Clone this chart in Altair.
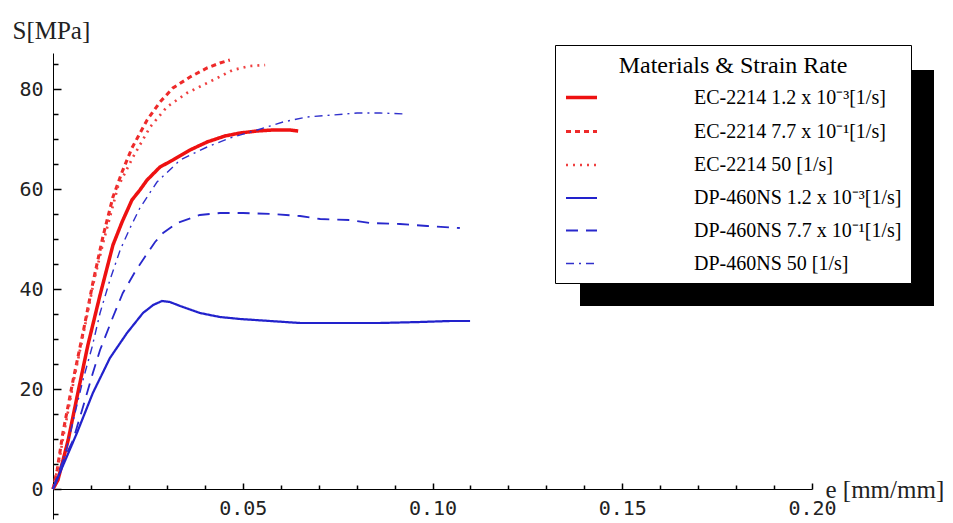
import altair as alt
import pandas as pd

# ---------------- data ----------------
series_names = [
    "EC-2214 1.2 x 10⁻³[1/s]",
    "EC-2214 7.7 x 10⁻¹[1/s]",
    "EC-2214 50 [1/s]",
    "DP-460NS 1.2 x 10⁻³[1/s]",
    "DP-460NS 7.7 x 10⁻¹[1/s]",
    "DP-460NS 50 [1/s]",
]

ec_slow_strain = [0, 0.0013, 0.0040, 0.0066, 0.0092, 0.0124, 0.0158, 0.0182, 0.0208, 0.0229,
                  0.0248, 0.0282, 0.0316, 0.0361, 0.0406, 0.0453, 0.0493, 0.0538, 0.0580,
                  0.0625, 0.0646]
ec_slow_stress = [0, 1.8, 9.8, 19.4, 28.8, 38.8, 48.8, 53.4, 57.8, 59.8,
                  61.8, 64.4, 65.8, 67.8, 69.4, 70.6, 71.2, 71.6, 71.8,
                  71.8, 71.6]

ec_mid_strain = [0, 0.0011, 0.0026, 0.0053, 0.0079, 0.0105, 0.0132, 0.0158, 0.0182, 0.0208,
                 0.0248, 0.0282, 0.0316, 0.0361, 0.0406, 0.0440, 0.0466]
ec_mid_stress = [0, 3.8, 11.2, 21.8, 31.2, 41.2, 50.6, 58.4, 63.4, 68.2,
                 73.8, 77.4, 80.2, 82.4, 84.2, 85.2, 85.8]

ec_fast_strain = [0, 0.0013, 0.0029, 0.0055, 0.0082, 0.0108, 0.0134, 0.0171, 0.0211, 0.0256,
                  0.0300, 0.0353, 0.0422, 0.0474, 0.0519, 0.0559]
ec_fast_stress = [0, 4.4, 11.2, 21.8, 31.8, 41.6, 49.8, 60.4, 66.4, 72.4,
                  76.4, 79.2, 81.8, 83.8, 84.6, 84.8]

dp_slow_strain = [0, 0.0018, 0.0063, 0.0105, 0.0150, 0.0195, 0.0237, 0.0264, 0.0287, 0.0308,
                  0.0335, 0.0387, 0.0440, 0.0493, 0.0572, 0.0651, 0.0756, 0.0862, 0.0967,
                  0.1046, 0.1099]
dp_slow_stress = [0, 3.2, 11.2, 19.2, 26.2, 31.2, 35.2, 36.8, 37.6, 37.4,
                  36.6, 35.2, 34.4, 34.0, 33.6, 33.2, 33.2, 33.2, 33.4,
                  33.6, 33.6]

dp_mid_strain = [0, 0.0024, 0.0053, 0.0079, 0.0105, 0.0124, 0.0158, 0.0184, 0.0216, 0.0242,
                 0.0269, 0.0290, 0.0327, 0.0387, 0.0440, 0.0501, 0.0580, 0.0651, 0.0704,
                 0.0783, 0.0835, 0.0914, 0.0986, 0.1072]
dp_mid_stress = [0, 5.2, 9.8, 16.4, 23.2, 27.8, 34.4, 39.2, 43.4, 46.4,
                 49.4, 51.2, 53.2, 54.8, 55.2, 55.2, 55.0, 54.6, 54.0,
                 53.8, 53.2, 53.0, 52.6, 52.2]

dp_fast_strain = [0, 0.0011, 0.0037, 0.0058, 0.0079, 0.0103, 0.0124, 0.0150, 0.0177, 0.0203,
                  0.0229, 0.0274, 0.0335, 0.0406, 0.0466, 0.0538, 0.0606, 0.0669, 0.0738,
                  0.0801, 0.0862, 0.0928]
dp_fast_stress = [0, 1.8, 8.4, 15.2, 21.8, 28.4, 35.2, 41.8, 47.8, 52.2,
                  56.2, 61.4, 65.8, 68.4, 70.2, 71.8, 73.4, 74.4, 74.8,
                  75.2, 75.2, 75.0]

# all tick positions (labels only on the majors 0.05 / 20 steps)
x_tick_values = [0.01, 0.02, 0.03, 0.04, 0.05, 0.06, 0.07, 0.08, 0.09, 0.10,
                 0.11, 0.12, 0.13, 0.14, 0.15, 0.16, 0.17, 0.18, 0.19, 0.20]
y_tick_values = [-5, 0, 5, 10, 15, 20, 25, 30, 35, 40, 45, 50, 55, 60, 65, 70, 75, 80, 85]

# ---------------- build table ----------------
strains = [ec_slow_strain, ec_mid_strain, ec_fast_strain, dp_slow_strain, dp_mid_strain, dp_fast_strain]
stresses = [ec_slow_stress, ec_mid_stress, ec_fast_stress, dp_slow_stress, dp_mid_stress, dp_fast_stress]
rows = []
for name, xs, ys in zip(series_names, strains, stresses):
    for i, (xv, yv) in enumerate(zip(xs, ys)):
        rows.append({"series": name, "strain": xv, "stress": yv, "i": i})
df = pd.DataFrame(rows)

# ---------------- styles ----------------
colors = ["#ee1111", "#ee2a2a", "#ef4040", "#2222cc", "#2828cc", "#3030cc"]
dashes = [[1, 0], [5, 4], [2, 5], [1, 0], [12, 8], [8, 5, 2, 5]]
widths = [3.5, 1.4, 1.6, 2.0, 2.0, 2.0]

W, H = 759, 466
Y_MIN, Y_MAX = -6, 87.2
x_scale = alt.Scale(domain=[0, 0.2], nice=False, zero=False)
y_scale = alt.Scale(domain=[Y_MIN, Y_MAX], nice=False, zero=False)

tick_font = "DejaVu Sans Mono"
serif = "Liberation Serif, Times New Roman, serif"

x_major_test = "round(datum.value * 100) % 5 === 0"
y_major_test = "datum.value % 20 === 0"

leg = alt.Legend(
    title="Materials & Strain Rate",
    orient="none", legendX=502, legendY=-8, direction="vertical",
    fillColor="white", strokeColor="black", padding=9,
    titleFont=serif, titleFontSize=24, titleFontWeight="normal", titleColor="black",
    titleAnchor="middle", titlePadding=2, titleLimit=500,
    labelFont=serif, labelFontSize=20, labelColor="black", labelOffset=95, labelLimit=500,
    symbolType="stroke", symbolSize=961, rowPadding=6,
)

# x axis sits on the zero line; ticks point up into the plot, labels below
x_axis = alt.Axis(
    orient="top", offset=-(H * Y_MAX / (Y_MAX - Y_MIN)), values=x_tick_values,
    ticks=True, tickColor="#000000", tickWidth=1.5, tickOpacity=1,
    tickSize={"condition": {"test": x_major_test, "value": 6}, "value": 4},
    labelExpr=x_major_test + " ? format(datum.value, '.2f') : ''",
    labelBaseline="top", labelPadding=-15, labelFlush=False, labelOverlap=False,
    labelFont=tick_font, labelFontSize=20, labelColor="#222",
    domainColor="black", domainWidth=1, grid=False,
    title="e [mm/mm]", titleFont=serif, titleFontSize=25, titleFontWeight="normal",
    titleColor="#222", titleX=772, titleY=8, titleAlign="left",
    titleBaseline="alphabetic", titleAngle=0,
)

# y axis sits at strain 0; ticks point right into the plot, labels on the left
y_axis = alt.Axis(
    orient="right", offset=-W, values=y_tick_values,
    ticks=True, tickColor="#000000", tickWidth=1.5, tickOpacity=1,
    tickSize={"condition": {"test": y_major_test, "value": 8}, "value": 5},
    labelExpr=y_major_test + " ? datum.label : ''",
    labelAlign="right", labelBaseline="middle", labelPadding=-18,
    labelFlush=False, labelOverlap=False,
    labelFont=tick_font, labelFontSize=20, labelColor="#222",
    domainColor="black", domainWidth=1, grid=False,
    title="S[MPa]", titleFont=serif, titleFontSize=25, titleFontWeight="normal",
    titleColor="#222", titleAngle=0, titleX=-41, titleY=-15,
    titleAlign="left", titleBaseline="alphabetic",
)

lines = alt.Chart(df).mark_line().encode(
    x=alt.X("strain:Q", scale=x_scale, axis=x_axis),
    y=alt.Y("stress:Q", scale=y_scale, axis=y_axis),
    color=alt.Color("series:N", scale=alt.Scale(domain=series_names, range=colors), legend=leg),
    strokeDash=alt.StrokeDash("series:N", scale=alt.Scale(domain=series_names, range=dashes), legend=leg),
    strokeWidth=alt.StrokeWidth("series:N", scale=alt.Scale(domain=series_names, range=widths), legend=leg),
    order=alt.Order("i:Q"),
)

# drop shadow behind the legend box
shadow = alt.Chart(pd.DataFrame({"s": [0]})).mark_rect(color="black").encode(
    x=alt.value(527), x2=alt.value(881), y=alt.value(17), y2=alt.value(253)
)

chart = alt.layer(shadow, lines).properties(
    width=W, height=H,
    padding={"left": 53, "top": 53, "right": 141, "bottom": 4},
    autosize=alt.AutoSizeParams(type="none"),
    background="white",
).configure_view(stroke=None)

chart.save("out.html", embed_options={"renderer": "svg", "actions": False})
